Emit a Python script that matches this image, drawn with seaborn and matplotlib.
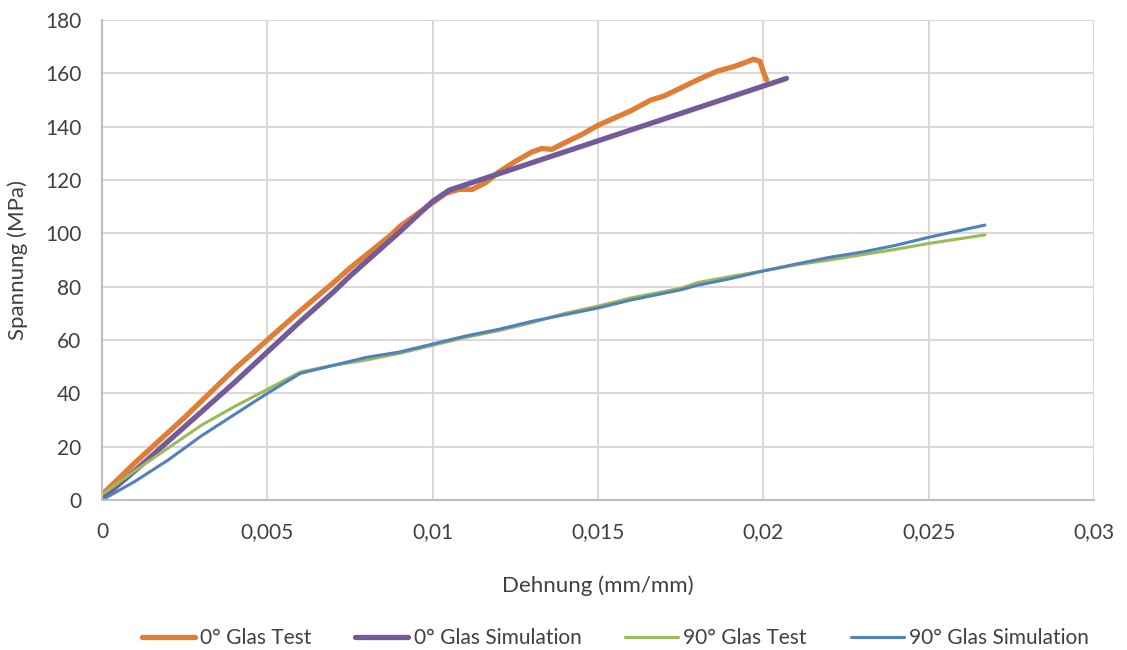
import numpy as np
import pandas as pd
import seaborn as sns
import matplotlib.pyplot as plt
from matplotlib.ticker import FuncFormatter, MultipleLocator

# 0° Glas Test
test0_x = [0, 0.001, 0.0025, 0.004, 0.005, 0.006, 0.007, 0.0075, 0.008, 0.00875, 0.009, 0.01,
           0.0104, 0.0108, 0.0112, 0.0116, 0.012, 0.0125, 0.013, 0.0133, 0.0136, 0.014, 0.0145,
           0.015, 0.016, 0.0166, 0.017, 0.018, 0.0186, 0.0191, 0.0194, 0.0197, 0.0199, 0.0200, 0.0201]
test0_y = [2, 14, 31, 49, 60, 71, 81.5, 87, 92, 99.5, 102.5, 111.5,
           115, 116.5, 116.5, 119, 123, 127, 130.5, 131.8, 131.5, 134, 137,
           140.5, 146, 150, 151.5, 157.5, 160.8, 162.5, 163.8, 165.3, 164.5, 160.5, 157.5]

# 0° Glas Simulation
sim0_x = [0, 0.001, 0.002, 0.003, 0.004, 0.005, 0.006, 0.007, 0.0075, 0.008, 0.009, 0.01, 0.0105, 0.0207]
sim0_y = [0.5, 11, 22, 33, 44, 55.5, 67, 78, 84, 89.5, 100.5, 112, 116.2, 158.1]

# 90° Glas Test
test90_x = [0, 0.001, 0.002, 0.003, 0.004, 0.005, 0.006, 0.007, 0.008, 0.009, 0.01, 0.011, 0.012,
            0.013, 0.014, 0.015, 0.016, 0.0175, 0.018, 0.019, 0.02, 0.021, 0.022, 0.023, 0.024,
            0.025, 0.0267]
test90_y = [2, 11, 19.5, 28, 35, 41.5, 48, 50.5, 52.5, 55, 58, 61, 63.5,
            66.5, 70, 72.7, 75.8, 79.4, 81.5, 83.8, 85.9, 88.2, 90, 92, 94,
            96.2, 99.4]

# 90° Glas Simulation
sim90_x = [0, 0.001, 0.002, 0.003, 0.004, 0.005, 0.006, 0.007, 0.008, 0.009, 0.01, 0.011, 0.012,
           0.013, 0.014, 0.015, 0.016, 0.0175, 0.018, 0.019, 0.02, 0.021, 0.022, 0.023, 0.024,
           0.025, 0.0267]
sim90_y = [0, 7, 15, 24, 32, 40, 47.5, 50.5, 53.5, 55.5, 58.5, 61.5, 64,
           67, 69.5, 72, 75, 78.8, 80.5, 83, 85.9, 88.5, 91, 93, 95.5,
           98.5, 103.1]

series = [
    ("0° Glas Test", test0_x, test0_y, "#E07E35", 3.8),
    ("0° Glas Simulation", sim0_x, sim0_y, "#735A9A", 3.8),
    ("90° Glas Test", test90_x, test90_y, "#9BBB59", 2.2),
    ("90° Glas Simulation", sim90_x, sim90_y, "#4F81BD", 2.2),
]

sns.set_theme(style="whitegrid")
plt.rcParams['font.family'] = ['Lato', 'DejaVu Sans']

fig = plt.figure(figsize=(11.27, 6.5), dpi=100)
ax = fig.add_axes([102 / 1127, 1 - 500 / 650, (1094 - 102) / 1127, 480 / 650])

for name, xs, ys, color, lw in series:
    df = pd.DataFrame({"x": xs, "y": ys})
    sns.lineplot(data=df, x="x", y="y", ax=ax, color=color, linewidth=lw,
                 label=name, sort=False, estimator=None, solid_capstyle="round")

ax.set_xlim(0, 0.03)
ax.set_ylim(0, 180)
ax.xaxis.set_major_locator(MultipleLocator(0.005))
ax.yaxis.set_major_locator(MultipleLocator(20))
ax.xaxis.set_major_formatter(FuncFormatter(lambda v, p: f"{v:g}".replace('.', ',')))
ax.yaxis.set_major_formatter(FuncFormatter(lambda v, p: f"{v:g}"))

ax.grid(True, color="#D9D9D9", linewidth=1.5)
ax.set_axisbelow(True)
for s in ["top", "right"]:
    ax.spines[s].set_visible(False)
for s in ["left", "bottom"]:
    ax.spines[s].set_color("#BFBFBF")
    ax.spines[s].set_linewidth(1.5)

ax.tick_params(axis="x", length=0, pad=16, labelsize=15, labelcolor="#404040")
ax.tick_params(axis="y", length=0, pad=15, labelsize=15, labelcolor="#404040")

ax.set_xlabel("Dehnung (mm/mm)", fontsize=16, color="#404040", labelpad=24)
ax.set_ylabel("Spannung (MPa)", fontsize=16, color="#404040", labelpad=12)

ax.get_legend().remove()
handles, labels = ax.get_legend_handles_labels()
fig.legend(handles, labels, loc="center", bbox_to_anchor=(0.546, 1 - 638 / 650),
           ncol=4, frameon=False, fontsize=15, handlelength=2.55, columnspacing=2.1,
           handletextpad=0.25, labelcolor="#404040")

fig.savefig("out.png", dpi=100, facecolor="white")
